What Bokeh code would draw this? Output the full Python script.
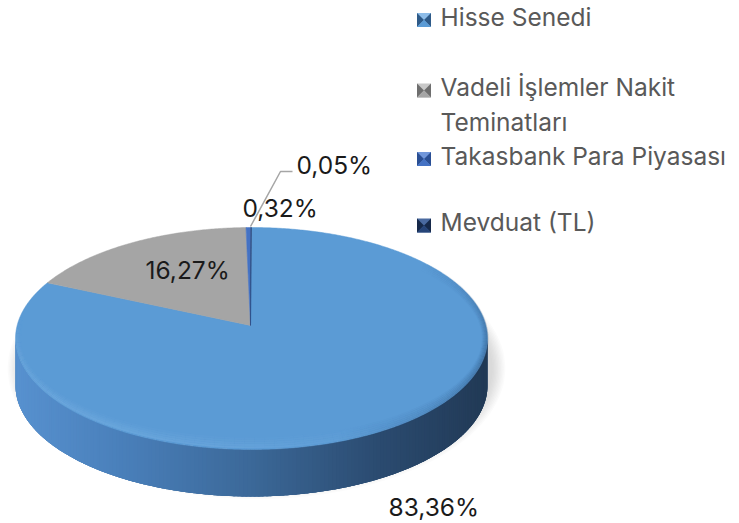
import numpy as np
from bokeh.plotting import figure
from bokeh.models import Range1d
from bokeh.core.properties import value
from bokeh.embed import file_html
from bokeh.resources import INLINE

# ---- data ----
categories = ["Hisse Senedi", "Vadeli İşlemler Nakit Teminatları",
              "Takasbank Para Piyasası", "Mevduat (TL)"]
values = [83.36, 16.27, 0.32, 0.05]
pct_labels = ["83,36%", "16,27%", "0,32%", "0,05%"]

# ---- styles / layout ----
top_colors = ["#5B9BD5", "#A5A5A5", "#4472C4", "#264478"]
dark_colors = ["#2E5A88", "#6E6E6E", "#2A4F94", "#16294A"]
light_colors = ["#8DBCE8", "#C8C8C8", "#7096DA", "#4A6AA0"]
FONT = "Inter"
FS = "24.5px"
TY = -9  # baseline correction

W, H = 739, 523
p = figure(width=W, height=H, x_range=Range1d(0, W), y_range=Range1d(H, 0),
           output_backend="svg", toolbar_location=None, min_border=0,
           x_axis_type=None, y_axis_type=None)
p.grid.visible = False
p.outline_line_color = None
p.background_fill_color = "white"
p.border_fill_color = "white"

cx, cy = 251.0, 338.0
rx, ry = 236.0, 111.0
apex = (250.0, 325.0)
thick = 47.0

def ell(phi_deg, dy=0.0, sx=1.0, sy=1.0):
    ph = np.radians(phi_deg)
    return cx + rx * sx * np.sin(ph), cy - ry * sy * np.cos(ph) + dy

# ---- shadow ----
for k in range(10):
    t = np.linspace(0, 360, 181)
    sx = 1.0 + 0.006 * k
    xs = 256 + rx * sx * np.sin(np.radians(t))
    ys = cy + 30 - (ry + 6 + 1.5 * k) * np.cos(np.radians(t))
    p.patch(xs, ys, fill_color="#9a9a9a", fill_alpha=0.035, line_color=None)

# ---- side (front half, all belongs to first slice) ----
def side_color(x):
    stops = [(14, (0x58, 0x92, 0xD0)), (120, (0x4A, 0x80, 0xBB)), (250, (0x3C, 0x69, 0x99)),
             (380, (0x2B, 0x4B, 0x70)), (487, (0x22, 0x3A, 0x56))]
    for (x0, c0), (x1, c1) in zip(stops[:-1], stops[1:]):
        if x <= x1:
            f = (x - x0) / (x1 - x0)
            f = min(max(f, 0), 1)
            c = [int(a + (b - a) * f) for a, b in zip(c0, c1)]
            return "#%02x%02x%02x" % tuple(c)
    return "#%02x%02x%02x" % stops[-1][1]

t = np.linspace(90, 270, 181)
ex, ey = ell(t)
p.patch(np.concatenate([ex, ex[::-1]]), np.concatenate([ey, ey[::-1] + thick]),
        fill_color="#3C6999", line_color=None)
phis = np.linspace(90, 270, 181)
sxs, sys_, scol = [], [], []
for a, b in zip(phis[:-1], phis[1:]):
    b2 = min(b + 1.5, 270)
    tt = np.linspace(a, b2, 4)
    x0, y0 = ell(tt)
    sxs.append(np.concatenate([x0, x0[::-1]]))
    sys_.append(np.concatenate([y0, y0[::-1] + thick]))
    xm, _ = ell((a + b) / 2)
    scol.append(side_color(xm))
p.patches(sxs, sys_, fill_color=scol, line_color=None)

# ---- top wedges ----
total = sum(values)
start = 0.0
for i, v in enumerate(values):
    span = 360.0 * v / total
    t = np.linspace(start, start + span, max(3, int(span * 2) + 2))
    ex, ey = ell(t)
    xs = np.concatenate([[apex[0]], ex])
    ys = np.concatenate([[apex[1]], ey])
    p.patch(xs, ys, fill_color=top_colors[i], line_color=top_colors[i], line_width=0.5)
    start += span

# bevel: light rim along lower-left, dark rim along right (faded at the ends)
def rim(a0, a1, color, peak, n_layers, shrink):
    for j in range(n_layers):
        t = np.linspace(a0, a1, 60)
        ex, ey = ell(t, sx=1 - 0.004 * (j + shrink), sy=1 - 0.02 * (j + shrink))
        w = np.sin(np.linspace(0, np.pi, 59))
        alphas = list((peak - peak / n_layers * j) * w)
        p.multi_line([[ex[k], ex[k + 1]] for k in range(59)],
                     [[ey[k], ey[k + 1]] for k in range(59)],
                     line_color=color, line_alpha=alphas, line_width=2)

rim(140, 285, "#9CCBF5", 0.2, 5, 1)
rim(45, 160, "#1F3F66", 0.22, 6, 0)

# ---- data labels ----
lbl_x = [388, 145, 242, 296]
lbl_y = [515, 278, 216, 173]
p.text(x=lbl_x, y=[v + TY for v in lbl_y], text=pct_labels, text_font=value(FONT),
       text_font_size=FS, text_color="#1a1a1a", text_baseline="alphabetic", text_align="left")
# leader line for smallest slice
p.line([250, 280, 292], [226, 171, 171], line_color="#A6A6A6", line_width=1.5)

# ---- legend ----
mk_x = 423.5
mk_y = [19.5, 90, 158.5, 225]
s = 7.0
for i, yc in enumerate(mk_y):
    p.patch([mk_x - s, mk_x + s, mk_x + s, mk_x - s], [yc - s, yc - s, yc + s, yc + s],
            fill_color=light_colors[i], line_color=None)
    p.patch([mk_x - s, mk_x, mk_x - s], [yc - s, yc, yc + s],
            fill_color=dark_colors[i], line_color=None)
    p.patch([mk_x + s, mk_x, mk_x + s], [yc - s, yc, yc + s],
            fill_color=dark_colors[i], line_color=None)
    p.patch([mk_x - s, mk_x + s, mk_x], [yc + s, yc + s, yc],
            fill_color=top_colors[i], line_color=None)

leg_text = ["Hisse Senedi", "Vadeli İşlemler Nakit", "Teminatları",
            "Takasbank Para Piyasası", "Mevduat (TL)"]
leg_y = [25, 95, 130, 164, 230]
p.text(x=[440] * 5, y=[v + TY for v in leg_y], text=leg_text, text_font=value(FONT),
       text_font_size=FS, text_color="#595959", text_baseline="alphabetic", text_align="left")

open("out.html", "w").write(file_html(p, INLINE))
